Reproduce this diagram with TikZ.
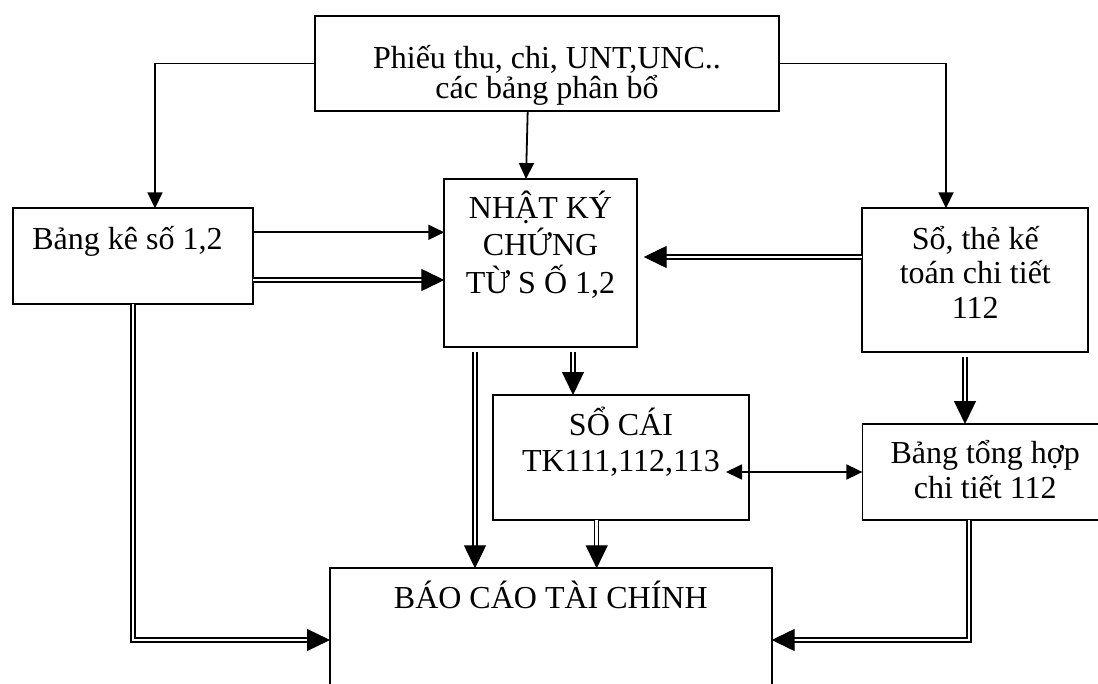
\documentclass[tikz,border=0pt]{standalone}
\usepackage{fontspec}
\setmainfont{Liberation Serif}
\usetikzlibrary{arrows.meta,calc}

\begin{document}
\begin{tikzpicture}[x=0.5pt,y=-0.5pt,
  box/.style={draw, line width=0.85pt, inner sep=0pt, outer sep=0pt},
  lbl/.style={anchor=base, inner sep=0pt, font=\fontsize{16}{19}\selectfont},
  arr/.style={line width=0.9pt, -{Triangle[length=8pt,width=7.5pt]}},
  arrboth/.style={line width=0.9pt, {Triangle[length=8pt,width=7.5pt]}-{Triangle[length=8pt,width=7.5pt]}},
  dbl/.style={draw, double=white, double distance=1.3pt, line width=0.65pt,
              -{Triangle[length=11.5pt,width=11pt]}}]

\fill[white] (0,0) rectangle (1098,684);
\useasboundingbox (0,0) rectangle (1098,684);

% boxes
\node[box, minimum width=232pt,   minimum height=47.5pt]  (top) at (547,63.5)    {};
\node[box, minimum width=120.3pt, minimum height=48pt]    (bk)  at (133,256.3)   {};
\node[box, minimum width=96.2pt,  minimum height=84.15pt] (nk)  at (540.5,263.2) {};
\node[box, minimum width=113pt,   minimum height=72pt]    (st)  at (975.3,280.3) {};
\node[box, minimum width=128.3pt, minimum height=62.5pt]  (sc)  at (621,457.5)   {};
\node[box, minimum width=122.85pt,minimum height=48pt]    (th)  at (985.2,472)   {};
\node[box, minimum width=220.85pt,minimum height=71.7pt]  (bc)  at (550.85,640)  {};

% texts
\node[lbl] (topA) at (547,68.3)   {Phiếu thu, chi, UNT,UNC..};
\node[lbl] (topB) at (547,99)     {các bảng phân bổ};
\node[lbl] (bkT)  at (127.4,250)  {Bảng kê số 1,2};
\node[lbl] (nkA)  at (540.5,218.3){NHẬT KÝ};
\node[lbl] (nkB)  at (540.5,255.5){CHỨNG};
\node[lbl] (nkC)  at (540.5,293)  {TỪ S Ố 1,2};
\node[lbl] (stA)  at (975.3,249.5){Sổ, thẻ kế};
\node[lbl] (stB)  at (975.3,284)  {toán chi tiết};
\node[lbl] (stC)  at (975.3,319)  {112};
\node[lbl] (scA)  at (621,435)    {SỔ CÁI};
\node[lbl] (scB)  at (621,471.7)  {TK111,112,113};
\node[lbl] (thA)  at (985.2,463.3){Bảng tổng hợp};
\node[lbl] (thB)  at (985.2,498.3){chi tiết 112};
\node[lbl] (bcT)  at (550.8,608.3){BÁO CÁO TÀI CHÍNH};

% single connectors
\draw[arr] (top.west) -| ($(bk.north)+(22,0)$);
\draw[arr] (top.east) -| ($(st.north)+(-29.3,0)$);
\draw[arr] ($(top.south)+(-19.3,0)$) -- ($(nk.north)+(-14.5,0)$);
\draw[arr] ($(bk.east)+(0,-24)$) -- ($(bk.east -| nk.west)+(0,-24)$);
\draw[arrboth] ($(sc.east |- th.west)+(-23.3,0)$) -- (th.west);

% double connectors
\draw[dbl] ($(bk.east)+(0,23.7)$) -- ($(bk.east -| nk.west)+(0,23.7)$);
\draw[dbl] ($(st.west)+(0,-23.3)$) -- ($(st.west -| nk.east)+(7,-23.3)$);
\draw[dbl] ($(nk.south)+(32.5,5)$) -- ($(nk.south |- sc.north)+(32.5,0)$);
\draw[dbl] ($(nk.south)+(-65.5,5)$) -- ($(nk.south |- bc.north)+(-65.5,0)$);
\draw[dbl] ($(sc.south)+(-24.3,0)$) -- ($(sc.south |- bc.north)+(-24.3,0)$);
\draw[dbl] ($(st.south)+(-10.3,5)$) -- ($(st.south |- th.north)+(-10.3,0)$);
\draw[dbl] ($(th.south)+(-16.2,0)$) |- (bc.east);
\draw[dbl] (bk.south) |- (bc.west);

\end{tikzpicture}
\end{document}
